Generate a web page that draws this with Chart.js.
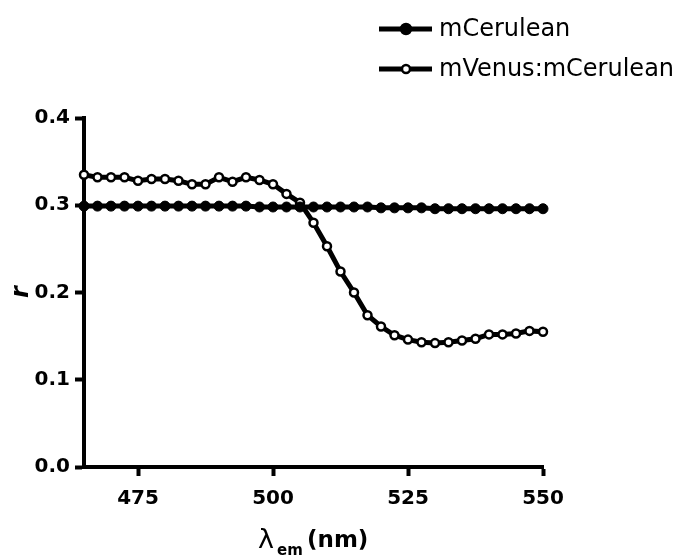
<!DOCTYPE html>
<html>
<head>
<meta charset="utf-8">
<script src="https://cdn.jsdelivr.net/npm/chart.js@4"></script>
<style>
  html, body { margin: 0; padding: 0; background: #fff; }
  #wrap { width: 690px; height: 558px; position: relative; }
</style>
</head>
<body>
<div id="wrap"><canvas id="rChart"></canvas></div>
<script>
// emission wavelengths (nm), every 2.5 nm
const wavelengths = [465, 467.5, 470, 472.5, 475, 477.5, 480, 482.5, 485, 487.5, 490, 492.5, 495, 497.5, 500, 502.5, 505,
  507.5, 510, 512.5, 515, 517.5, 520, 522.5, 525, 527.5, 530, 532.5, 535, 537.5, 540, 542.5, 545, 547.5, 550];

// anisotropy r
const ceruleanR = [0.299, 0.299, 0.299, 0.299, 0.299, 0.299, 0.299, 0.299, 0.299, 0.299, 0.299, 0.299, 0.299, 0.298, 0.298, 0.298, 0.298,
  0.298, 0.298, 0.298, 0.298, 0.298, 0.297, 0.297, 0.297, 0.297, 0.296, 0.296, 0.296, 0.296, 0.296, 0.296, 0.296, 0.296, 0.296];
const venusCeruleanR = [0.335, 0.332, 0.332, 0.332, 0.328, 0.330, 0.330, 0.328, 0.324, 0.324, 0.332, 0.327, 0.332, 0.329, 0.324, 0.313, 0.303,
  0.280, 0.253, 0.224, 0.200, 0.174, 0.161, 0.151, 0.146, 0.143, 0.142, 0.143, 0.145, 0.147, 0.152, 0.152, 0.153, 0.156, 0.155];

const xTicks = [475, 500, 525, 550];
const yTicks = [0, 0.1, 0.2, 0.3, 0.4];

const seriesNames = ['mCerulean', 'mVenus:mCerulean'];

const toPoints = (ys) => wavelengths.map((x, i) => ({ x: x, y: ys[i] }));

const FONT = '"DejaVu Sans", "Liberation Sans", sans-serif';

// legend + axis titles drawn by hand (subscript, line-with-marker swatch)
const extrasPlugin = {
  id: 'extras',
  afterDraw(chart) {
    const c = chart.ctx;
    c.save();
    c.fillStyle = '#000';
    c.strokeStyle = '#000';

    // legend
    const rows = [
      { y: 29, fill: '#000', r: 5 },
      { y: 69, fill: '#fff', r: 4 }
    ];
    rows.forEach((row, i) => {
      c.lineWidth = 5;
      c.beginPath();
      c.moveTo(379, row.y);
      c.lineTo(432, row.y);
      c.stroke();
      c.beginPath();
      c.arc(406, row.y, row.r, 0, Math.PI * 2);
      c.fillStyle = row.fill;
      c.fill();
      c.lineWidth = 2.5;
      c.stroke();
      c.fillStyle = '#000';
      c.font = '24px ' + FONT;
      c.textBaseline = 'middle';
      c.textAlign = 'left';
      c.fillText(seriesNames[i], 439, row.y + 1);
    });

    // x title: lambda_em (nm)
    c.textBaseline = 'alphabetic';
    c.font = '27px ' + FONT;
    c.fillText('λ', 258, 548);
    c.font = 'bold 15px ' + FONT;
    c.fillText('em', 277, 555);
    c.font = 'bold 23px ' + FONT;
    c.fillText('(nm)', 307, 547);

    // y title: r
    c.translate(28, 292);
    c.rotate(-Math.PI / 2);
    c.font = 'italic bold 24px ' + FONT;
    c.textAlign = 'center';
    c.fillText('r', 0, 0);
    c.restore();
  }
};

const ctx = document.getElementById('rChart').getContext('2d');

const rChart = new Chart(ctx, {
  type: 'line',
  data: {
    datasets: [{
      label: seriesNames[0],
      data: toPoints(ceruleanR),
      borderColor: '#000',
      backgroundColor: '#000',
      borderWidth: 5,
      pointRadius: 5,
      pointBorderWidth: 1,
      pointBorderColor: '#000',
      pointBackgroundColor: '#000',
      tension: 0,
      clip: false
    }, {
      label: seriesNames[1],
      data: toPoints(venusCeruleanR),
      borderColor: '#000',
      backgroundColor: '#fff',
      borderWidth: 5,
      pointRadius: 4,
      pointBorderWidth: 2.5,
      pointBorderColor: '#000',
      pointBackgroundColor: '#fff',
      tension: 0,
      clip: false
    }]
  },
  options: {
    responsive: true,
    maintainAspectRatio: false,
    animation: false,
    layout: { padding: { top: 118, right: 147, left: 0, bottom: 0 } },
    plugins: {
      legend: { display: false },
      tooltip: { enabled: false }
    },
    scales: {
      x: {
        type: 'linear',
        min: 465,
        max: 550,
        afterBuildTicks: (s) => { s.ticks = xTicks.map(v => ({ value: v })); },
        afterFit: (s) => { s.height = 91; },
        border: { display: true, color: '#000', width: 4 },
        grid: { drawOnChartArea: false, drawTicks: true, tickLength: 9, tickWidth: 4, color: '#000' },
        ticks: {
          color: '#000',
          padding: 11,
          maxRotation: 0,
          font: { family: FONT, size: 20, weight: 'bold' }
        }
      },
      y: {
        min: 0,
        max: 0.4,
        afterBuildTicks: (s) => { s.ticks = yTicks.map(v => ({ value: v })); },
        afterFit: (s) => { s.width = 84; },
        border: { display: true, color: '#000', width: 4 },
        grid: { drawOnChartArea: false, drawTicks: true, tickLength: 9, tickWidth: 4, color: '#000' },
        ticks: {
          color: '#000',
          padding: 5,
          callback: (v) => v.toFixed(1),
          font: { family: FONT, size: 20, weight: 'bold' }
        }
      }
    }
  },
  plugins: [extrasPlugin]
});
</script>
</body>
</html>
